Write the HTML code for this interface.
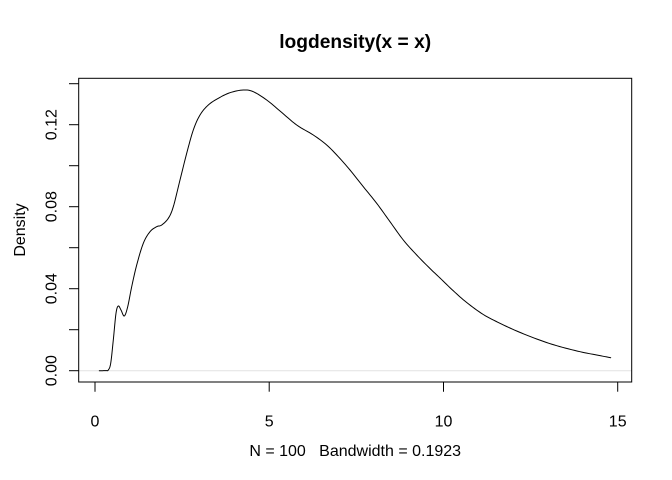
<!DOCTYPE html>
<html>
<head>
<meta charset="utf-8">
<style>
  html, body { margin: 0; padding: 0; background: #ffffff; }
  svg { display: block; }
  text { font-family: "Liberation Sans", Arial, sans-serif; fill: #000; }
</style>
</head>
<body>
<svg width="672" height="480" viewBox="0 0 672 480" xmlns="http://www.w3.org/2000/svg">
  <rect x="0" y="0" width="672" height="480" fill="#ffffff"/>

  <!-- title -->
  <text x="355.2" y="48" font-size="19.2" font-weight="bold" text-anchor="middle">logdensity(x = x)</text>

  <!-- zero line -->
  <line x1="78.7" y1="370.7" x2="631.7" y2="370.7" stroke="#e2e2e2" stroke-width="1"/>

  <!-- density curve -->
  <polyline id="curve" fill="none" stroke="#000" stroke-width="1" stroke-linejoin="round" stroke-linecap="round"
    points="99.3,370.7 106,370.6 108.3,370 110.7,363.3 113.3,340 116,313.3 118.3,306 121,310 124.3,316 127.7,306.7 131.7,286.7 136.7,265 143.3,243.3 150,231.7 156.7,226.7 161.7,225 168.3,218.3 173.3,206.7 180,180 186.7,153.3 193.3,130 200,115 208.3,105 218.3,98.3 230,92.7 243.3,90 253.3,91.7 266.7,100 280,111 296.7,125 313.3,135 326.7,145 338.3,156.7 350,170 363.3,186.7 376.7,203.3 390,221.7 403.3,240 416.7,255 430,268.5 440,278 453.3,290.8 466.7,302.5 483.3,314.5 500,323.3 516.7,331 536.7,339 556.7,345.7 580,351.7 596.7,355 610.7,357.7"/>

  <!-- plot box -->
  <rect x="78.7" y="78.3" width="553" height="303.7" fill="none" stroke="#000" stroke-width="1"/>

  <!-- x ticks -->
  <g stroke="#000" stroke-width="1">
    <line x1="95" y1="382" x2="95" y2="391.7"/>
    <line x1="269.2" y1="382" x2="269.2" y2="391.7"/>
    <line x1="443.5" y1="382" x2="443.5" y2="391.7"/>
    <line x1="617.7" y1="382" x2="617.7" y2="391.7"/>
  </g>
  <g font-size="16" text-anchor="middle">
    <text x="95" y="426.5">0</text>
    <text x="269.2" y="426.5">5</text>
    <text x="443.5" y="426.5">10</text>
    <text x="617.7" y="426.5">15</text>
  </g>

  <!-- y ticks -->
  <g stroke="#000" stroke-width="1">
    <line x1="69" y1="370.7" x2="78.7" y2="370.7"/>
    <line x1="69" y1="329.7" x2="78.7" y2="329.7"/>
    <line x1="69" y1="288.7" x2="78.7" y2="288.7"/>
    <line x1="69" y1="247.7" x2="78.7" y2="247.7"/>
    <line x1="69" y1="206.7" x2="78.7" y2="206.7"/>
    <line x1="69" y1="165.7" x2="78.7" y2="165.7"/>
    <line x1="69" y1="124.7" x2="78.7" y2="124.7"/>
    <line x1="69" y1="83.7" x2="78.7" y2="83.7"/>
  </g>
  <g font-size="16" text-anchor="middle">
    <text transform="translate(56.7,370.7) rotate(-90)">0.00</text>
    <text transform="translate(56.7,288.7) rotate(-90)">0.04</text>
    <text transform="translate(56.7,206.7) rotate(-90)">0.08</text>
    <text transform="translate(56.7,124.7) rotate(-90)">0.12</text>
  </g>

  <!-- axis titles -->
  <text transform="translate(25,230) rotate(-90)" font-size="16" text-anchor="middle">Density</text>
  <text x="355.2" y="456" font-size="16" text-anchor="middle" xml:space="preserve">N = 100   Bandwidth = 0.1923</text>
</svg>
<script>
(function(){
  var el = document.getElementById('curve');
  var raw = el.getAttribute('points').trim().split(/\s+/).map(function(s){var a=s.split(',');return [parseFloat(a[0]),parseFloat(a[1])];});
  var out = [];
  var n = raw.length;
  for (var i = 0; i < n - 1; i++) {
    var p0 = raw[Math.max(0, i-1)], p1 = raw[i], p2 = raw[i+1], p3 = raw[Math.min(n-1, i+2)];
    var steps = 8;
    for (var s = 0; s < steps; s++) {
      var t = s / steps, t2 = t*t, t3 = t2*t;
      var x = 0.5*((2*p1[0]) + (-p0[0]+p2[0])*t + (2*p0[0]-5*p1[0]+4*p2[0]-p3[0])*t2 + (-p0[0]+3*p1[0]-3*p2[0]+p3[0])*t3);
      var y = 0.5*((2*p1[1]) + (-p0[1]+p2[1])*t + (2*p0[1]-5*p1[1]+4*p2[1]-p3[1])*t2 + (-p0[1]+3*p1[1]-3*p2[1]+p3[1])*t3);
      out.push(x.toFixed(2)+','+y.toFixed(2));
    }
  }
  out.push(raw[n-1][0]+','+raw[n-1][1]);
  el.setAttribute('points', out.join(' '));
})();
</script>
</body>
</html>
